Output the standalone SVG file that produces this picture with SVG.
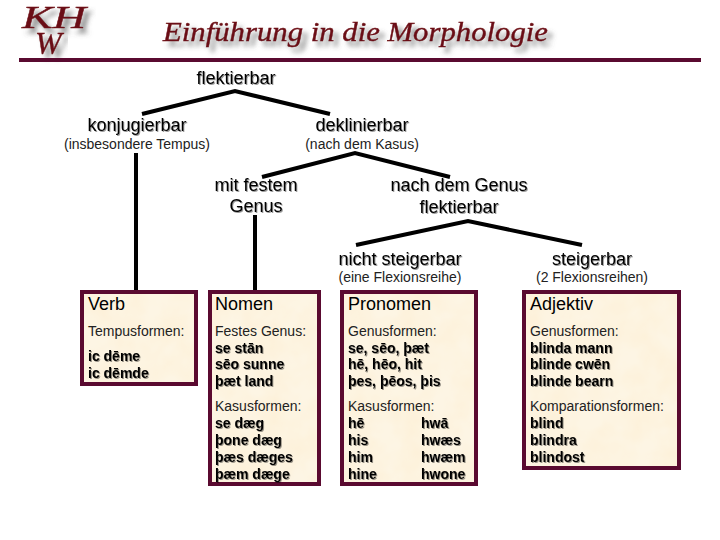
<svg xmlns="http://www.w3.org/2000/svg" width="720" height="540" viewBox="0 0 720 540">
<defs>
<filter id="soft" x="-10%" y="-30%" width="120%" height="160%"><feDropShadow dx="1" dy="1" stdDeviation="0.7" flood-color="#000" flood-opacity="0.4"/></filter>
<filter id="title" x="-10%" y="-40%" width="120%" height="190%"><feDropShadow dx="5" dy="5" stdDeviation="2.5" flood-color="#555" flood-opacity="0.7"/></filter>
<filter id="paper" x="0" y="0" width="100%" height="100%">
<feTurbulence type="fractalNoise" baseFrequency="0.035" numOctaves="3" seed="4" result="n"/>
<feColorMatrix in="n" type="matrix" values="0 0 0 0 1  0 0 0 0 0.93  0 0 0 0 0.80  0.9 0 0 0 -0.25" result="m"/>
<feComposite in="m" in2="SourceGraphic" operator="in" result="c"/>
<feBlend in="c" in2="SourceGraphic" mode="multiply"/>
</filter>
</defs>
<style>
text{font-family:"Liberation Sans",Arial,sans-serif;fill:#000}
.h{font-size:18px;text-anchor:middle;filter:url(#soft)}
.s{font-size:14px;text-anchor:middle;fill:#222}
.paper{fill:#fdf5e4;filter:url(#paper)}
.box{fill:none;stroke:#5a0a30;stroke-width:4}
.t{font-size:18px}
.l{font-size:14px;fill:#222}
.b{font-size:14px;font-weight:bold;filter:url(#soft)}
.c{fill:none;stroke:#000;stroke-width:4}
.logo{font-family:"Liberation Serif",serif;font-style:italic;fill:#6b0a14;stroke:#6b0a14;stroke-width:.4;filter:url(#title)}
</style>
<rect width="720" height="540" fill="#fff"/>
<g id="header">
<text class="logo" x="22" y="28" font-size="32" textLength="64" lengthAdjust="spacingAndGlyphs">KH</text>
<text class="logo" x="35" y="54" font-size="32">W</text>
<text class="logo" x="163" y="41" font-size="27" textLength="385" lengthAdjust="spacingAndGlyphs">Einführung in die Morphologie</text>
<rect x="19" y="58" width="682" height="4" fill="#5a0a30"/>
</g>
<g id="connectors">
<polyline class="c" points="142,114 235,91 330,114"/>
<polyline class="c" points="262,177 355,153 450,177"/>
<polyline class="c" points="356,245 468,221 582,245"/>
<line class="c" x1="136" y1="153" x2="136" y2="290"/>
<line class="c" x1="255" y1="215" x2="255" y2="290"/>
</g>
<g id="n-flektierbar"><text class="h" x="236" y="84">flektierbar</text></g>
<g id="n-konjugierbar"><text class="h" x="137" y="131">konjugierbar</text><text class="s" x="137" y="149">(insbesondere Tempus)</text></g>
<g id="n-deklinierbar"><text class="h" x="362" y="131">deklinierbar</text><text class="s" x="362" y="149">(nach dem Kasus)</text></g>
<g id="n-mitfestem"><text class="h" x="256" y="191">mit festem</text><text class="h" x="256" y="212">Genus</text></g>
<g id="n-nachdemgenus"><text class="h" x="459" y="191">nach dem Genus</text><text class="h" x="459" y="213">flektierbar</text></g>
<g id="n-nichtsteigerbar"><text class="h" x="400" y="265">nicht steigerbar</text><text class="s" x="400" y="282">(eine Flexionsreihe)</text></g>
<g id="n-steigerbar"><text class="h" x="592" y="265">steigerbar</text><text class="s" x="592" y="282">(2 Flexionsreihen)</text></g>
<g id="n-verb">
<rect class="paper" x="82" y="292" width="114" height="92"/><rect class="box" x="82" y="292" width="114" height="92"/>
<text class="t" x="88" y="310">Verb</text>
<text class="l" x="88" y="336">Tempusformen:</text>
<text class="b" x="88" y="361">ic dēme</text>
<text class="b" x="88" y="378">ic dēmde</text>
</g>
<g id="n-nomen">
<rect class="paper" x="210" y="292" width="109" height="192"/><rect class="box" x="210" y="292" width="109" height="192"/>
<text class="t" x="215" y="310">Nomen</text>
<text class="l" x="215" y="336">Festes Genus:</text>
<text class="b" x="215" y="353">se stān</text>
<text class="b" x="215" y="369">sēo sunne</text>
<text class="b" x="215" y="386">þæt land</text>
<text class="l" x="215" y="411">Kasusformen:</text>
<text class="b" x="215" y="428">se dæg</text>
<text class="b" x="215" y="445">þone dæg</text>
<text class="b" x="215" y="462">þæs dæges</text>
<text class="b" x="215" y="479">þæm dæge</text>
</g>
<g id="n-pronomen">
<rect class="paper" x="342" y="292" width="134" height="192"/><rect class="box" x="342" y="292" width="134" height="192"/>
<text class="t" x="348" y="310">Pronomen</text>
<text class="l" x="348" y="336">Genusformen:</text>
<text class="b" x="348" y="353">se, sēo, þæt</text>
<text class="b" x="348" y="369">hē, hēo, hit</text>
<text class="b" x="348" y="386">þes, þēos, þis</text>
<text class="l" x="348" y="411">Kasusformen:</text>
<text class="b" x="348" y="428">hē</text><text class="b" x="421" y="428">hwā</text>
<text class="b" x="348" y="445">his</text><text class="b" x="421" y="445">hwæs</text>
<text class="b" x="348" y="462">him</text><text class="b" x="421" y="462">hwæm</text>
<text class="b" x="348" y="479">hine</text><text class="b" x="421" y="479">hwone</text>
</g>
<g id="n-adjektiv">
<rect class="paper" x="524" y="292" width="155" height="176"/><rect class="box" x="524" y="292" width="155" height="176"/>
<text class="t" x="530" y="310">Adjektiv</text>
<text class="l" x="530" y="336">Genusformen:</text>
<text class="b" x="530" y="353">blinda mann</text>
<text class="b" x="530" y="369">blinde cwēn</text>
<text class="b" x="530" y="386">blinde bearn</text>
<text class="l" x="530" y="411">Komparationsformen:</text>
<text class="b" x="530" y="428">blind</text>
<text class="b" x="530" y="445">blindra</text>
<text class="b" x="530" y="462">blindost</text>
</g>
</svg>
